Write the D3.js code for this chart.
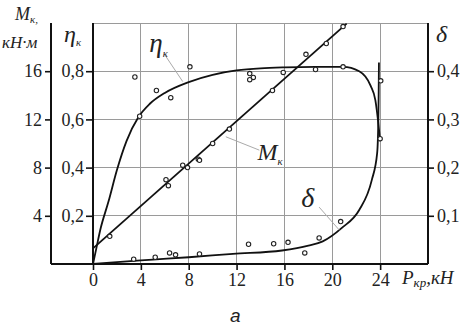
<!DOCTYPE html>
<html>
<head>
<meta charset="utf-8">
<script src="https://cdn.jsdelivr.net/npm/d3@7/dist/d3.min.js"></script>
<style>
    body { margin: 0; background: #fff; }
</style>
</head>
<body>
<svg id="chart" width="469" height="328"></svg>
<script>
// Tick values for the axes
var pTicks = [0, 4, 8, 12, 16, 20, 24];
var mTicks = [4, 8, 12, 16];
var etaTicks = [0.2, 0.4, 0.6, 0.8];
var deltaTicks = [0.1, 0.2, 0.3, 0.4];

// Fitted curves: P (kN) -> value
var etaCurveP = [0, 0.3, 0.6, 1.3, 2, 2.8, 3.8, 4.75, 6, 8, 10, 12, 14, 16, 18.6, 20.9, 22.25, 23.2, 23.6, 23.9, 24];
var etaCurveV = [0, 0.07, 0.14, 0.26, 0.39, 0.51, 0.61, 0.665, 0.71, 0.755, 0.785, 0.803, 0.812, 0.816, 0.818, 0.818, 0.8, 0.74, 0.68, 0.56, 0.51];

var deltaCurveP = [0, 2, 5, 8, 11.7, 15.8, 18, 19.2, 20.8, 22.25, 23.3, 23.75, 23.85, 23.88, 23.9];
var deltaCurveV = [0, 0.004, 0.009, 0.014, 0.021, 0.028, 0.038, 0.047, 0.075, 0.112, 0.174, 0.23, 0.3, 0.36, 0.418];

var mLineP = [0, 21.2];
var mLineV = [1.3, 19.95];

// Measured points
var etaPtsP = [3.5, 3.9, 5.3, 6.5, 8.1, 13.1, 13.4, 13.1, 18.6, 20.9, 24.05, 24.0];
var etaPtsV = [0.776, 0.613, 0.72, 0.69, 0.818, 0.79, 0.774, 0.765, 0.807, 0.818, 0.76, 0.52];

var mPtsP = [1.4, 6.1, 6.3, 7.5, 7.9, 8.8, 8.9, 10.0, 11.4, 15.0, 15.9, 17.8, 19.5, 20.9];
var mPtsV = [2.3, 7.0, 6.5, 8.2, 8.0, 8.7, 8.6, 10.0, 11.2, 14.4, 15.9, 17.4, 18.3, 19.7];

var deltaPtsP = [3.4, 5.2, 6.4, 6.9, 8.9, 13.0, 15.1, 16.3, 17.7, 18.9, 20.7];
var deltaPtsV = [0.010, 0.014, 0.023, 0.019, 0.021, 0.041, 0.042, 0.045, 0.023, 0.054, 0.088];

var SERIF = '"Liberation Serif", "Times New Roman", "DejaVu Serif", serif';

var svg = d3.select('#chart');

var x = d3.scaleLinear().domain([0, 28]).range([93, 428]),
    yEta = d3.scaleLinear().domain([0, 1]).range([264, 23]),
    yM = d3.scaleLinear().domain([0, 20]).range([264, 23]),
    yD = d3.scaleLinear().domain([0, 0.5]).range([264, 23]);

var comma = function (d) { return d.toFixed(1).replace('.', ','); };

// grid
var grid = svg.append('g').attr('class', 'grid')
    .attr('stroke', '#9a9a9a').attr('stroke-width', 1).attr('shape-rendering', 'crispEdges');
grid.selectAll('line.v').data(pTicks.slice(1)).enter().append('line')
    .attr('x1', function (d) { return x(d); }).attr('x2', function (d) { return x(d); })
    .attr('y1', yEta(1)).attr('y2', yEta(0));
grid.selectAll('line.h').data(etaTicks.concat([1])).enter().append('line')
    .attr('x1', x(0)).attr('x2', x(28))
    .attr('y1', function (d) { return yEta(d); }).attr('y2', function (d) { return yEta(d); });

// axes
function styleAxis(g) {
    g.attr('font-family', null).attr('font-size', null);
    g.select('.domain').remove();
    g.selectAll('.tick line').attr('stroke', '#111').attr('stroke-width', 1.6);
    g.selectAll('.tick text')
        .style('font-family', SERIF)
        .style('font-size', '18px')
        .attr('fill', '#222');
}

svg.append('g').attr('transform', 'translate(51,0)')
    .call(d3.axisLeft(yM).tickValues(mTicks).tickSize(6).tickPadding(3).tickFormat(d3.format('d')))
    .call(styleAxis);
svg.append('g').attr('transform', 'translate(' + x(0) + ',0)')
    .call(d3.axisLeft(yEta).tickValues(etaTicks).tickSize(7).tickPadding(2).tickFormat(comma))
    .call(styleAxis);
svg.append('g').attr('transform', 'translate(' + x(28) + ',0)')
    .call(d3.axisRight(yD).tickValues(deltaTicks).tickSize(6).tickPadding(3).tickFormat(comma))
    .call(styleAxis);
svg.append('g').attr('transform', 'translate(0,' + yEta(0) + ')')
    .call(d3.axisBottom(x).tickValues(pTicks).tickSize(6).tickPadding(3).tickFormat(d3.format('d')))
    .call(styleAxis);

// axis lines
var axisLines = svg.append('g').attr('stroke', '#111').attr('stroke-width', 2);
axisLines.append('line').attr('x1', 51).attr('x2', 51).attr('y1', yEta(1)).attr('y2', yEta(0));
axisLines.append('line').attr('x1', x(0)).attr('x2', x(0)).attr('y1', yEta(1)).attr('y2', yEta(0));
axisLines.append('line').attr('x1', x(28)).attr('x2', x(28)).attr('y1', yEta(1)).attr('y2', yEta(0));
axisLines.append('line').attr('x1', 51).attr('x2', x(28)).attr('y1', yEta(0)).attr('y2', yEta(0));

// curves
function curve(ps, vs, yScale) {
    return d3.line()
        .x(function (d) { return x(d[0]); })
        .y(function (d) { return yScale(d[1]); })
        .curve(d3.curveMonotoneX)(d3.zip(ps, vs));
}
var curves = svg.append('g').attr('fill', 'none').attr('stroke', '#111').attr('stroke-width', 1.8);
curves.append('path').attr('d', curve(etaCurveP, etaCurveV, yEta));
curves.append('path').attr('d', curve(deltaCurveP, deltaCurveV, yD));
curves.append('path').attr('d', curve(mLineP, mLineV, yM));

// points
function points(ps, vs, yScale) {
    svg.append('g').selectAll('circle').data(d3.zip(ps, vs)).enter().append('circle')
        .attr('cx', function (d) { return x(d[0]); })
        .attr('cy', function (d) { return yScale(d[1]); })
        .attr('r', 2.2)
        .attr('fill', '#fff').attr('stroke', '#222').attr('stroke-width', 1.1);
}
points(etaPtsP, etaPtsV, yEta);
points(mPtsP, mPtsV, yM);
points(deltaPtsP, deltaPtsV, yD);

// leaders
var leaders = svg.append('g').attr('stroke', '#aaa').attr('stroke-width', 1);
leaders.append('line').attr('x1', x(6.0)).attr('y1', yEta(0.868)).attr('x2', x(7.5)).attr('y2', yEta(0.757));
leaders.append('line').attr('x1', x(11.1)).attr('y1', yM(10.56)).attr('x2', x(13.9)).attr('y2', yM(9.45));
leaders.append('line').attr('x1', x(18.9)).attr('y1', yD(0.118)).attr('x2', x(20.6)).attr('y2', yD(0.07));

// labels with subscripts
function label(px, py, size, main, sub, subSize, rest) {
    var t = svg.append('text').attr('x', px).attr('y', py)
        .style('font-family', SERIF).style('fill', '#222')
        .style('font-style', 'italic').style('font-size', size + 'px');
    t.append('tspan').text(main);
    if (sub) t.append('tspan').attr('dy', size * 0.18).style('font-size', subSize + 'px').text(sub);
    if (rest) t.append('tspan').attr('dy', -size * 0.18).text(rest);
    return t;
}
label(15, 20, 18, 'M', 'к,', 11);
label(2, 48, 17, 'кН·м');
label(64, 42, 24, 'η', 'к', 11);
label(436, 42, 24, 'δ');
label(x(4.7), yEta(0.878), 27, 'η', 'к', 11);
label(x(13.75), yM(8.6), 24, 'M', 'к', 11);
label(x(17.4), yD(0.1185), 28, 'δ');
label(402, 284, 19, 'P', 'кр', 13, ',кН');

svg.append('text').attr('x', 230).attr('y', 322)
    .style('font-family', '"Liberation Sans", Arial, sans-serif').style('fill', '#222')
    .style('font-style', 'italic').style('font-size', '19px').text('а');
</script>
</body>
</html>
